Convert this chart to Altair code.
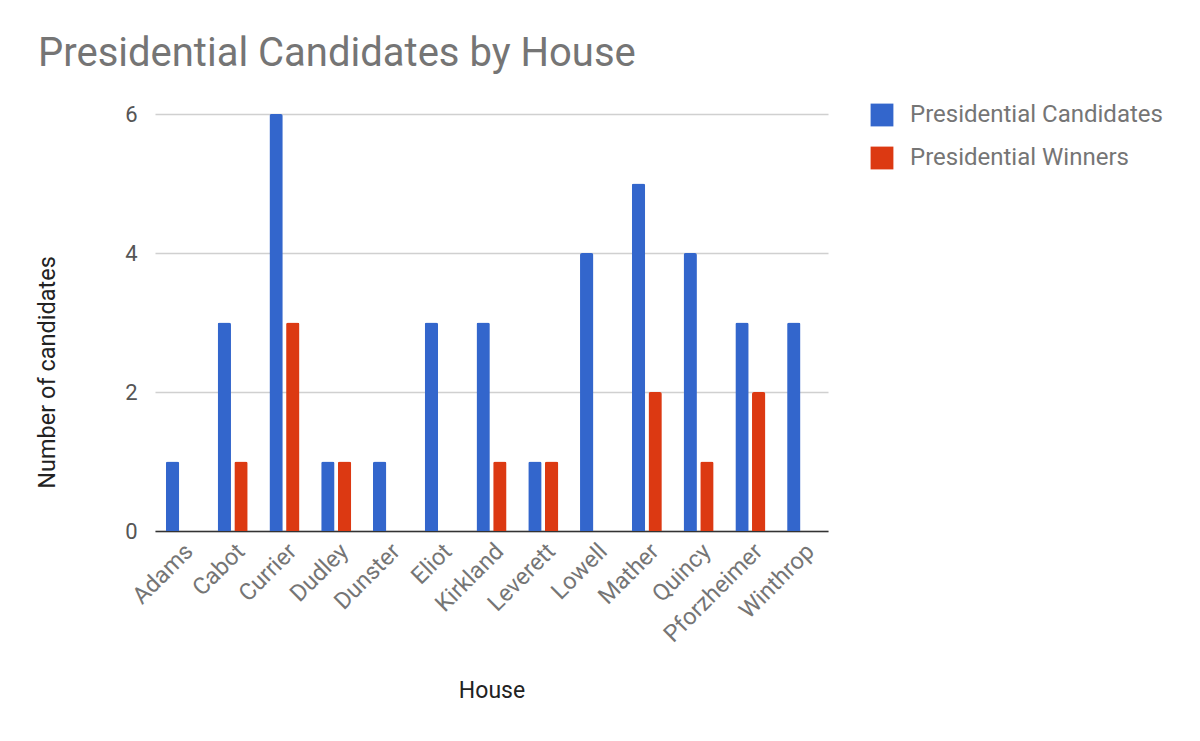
import altair as alt
import pandas as pd

houses = ["Adams", "Cabot", "Currier", "Dudley", "Dunster", "Eliot", "Kirkland",
          "Leverett", "Lowell", "Mather", "Quincy", "Pforzheimer", "Winthrop"]
candidates = [1, 3, 6, 1, 1, 3, 3, 1, 4, 5, 4, 3, 3]
winners = [0, 1, 3, 1, 0, 0, 1, 1, 0, 2, 1, 2, 0]
series = ["Presidential Candidates", "Presidential Winners"]
colors = ["#3366cc", "#dc3912"]

rows = []
for h, c, w in zip(houses, candidates, winners):
    rows.append({"House": h, "Series": series[0], "Value": c})
    rows.append({"House": h, "Series": series[1], "Value": w})
df = pd.DataFrame(rows)

chart = alt.Chart(df).mark_bar(cornerRadiusTopLeft=2, cornerRadiusTopRight=2).encode(
    x=alt.X("House:N", sort=houses, title="House",
            scale=alt.Scale(paddingInner=0.42, paddingOuter=0.21),
            axis=alt.Axis(labelAngle=-45, labelFontSize=23.5, labelColor="#757575",
                          labelPadding=8, ticks=False, domain=True, domainColor="#333333",
                          domainWidth=1.5, titleFontSize=23, titleColor="#222222",
                          titleFontWeight="normal", titleY=159, titleBaseline="middle")),
    xOffset=alt.XOffset("Series:N", sort=series, scale=alt.Scale(paddingInner=0.2)),
    y=alt.Y("Value:Q", title="Number of candidates",
            scale=alt.Scale(domain=[0, 6], nice=False),
            axis=alt.Axis(values=[0, 2, 4, 6], format="d", labelFontSize=22,
                          labelColor="#555555", labelPadding=18, ticks=False, domain=False,
                          gridColor="#d0d0d0", gridWidth=1.5, titleFontSize=23.5,
                          titleColor="#222222", titleFontWeight="normal",
                          titleX=-108, titleY=258, titleBaseline="middle", titleAngle=-90)),
    color=alt.Color("Series:N", sort=series,
                    scale=alt.Scale(domain=series, range=colors),
                    legend=alt.Legend(title=None, orient="none", legendX=715, legendY=-11,
                                      symbolType="square", symbolSize=520,
                                      symbolStrokeWidth=0, labelFontSize=24,
                                      labelColor="#757575", rowPadding=19,
                                      labelOffset=16, labelLimit=0)),
).properties(
    width=673, height=417,
    autosize=alt.AutoSizeParams(type="none"),
    padding={"left": 147, "top": 106, "right": 364, "bottom": 202},
    title=alt.TitleParams("Presidential Candidates by House", anchor="start",
                          frame="group", dx=-117, dy=50, offset=47, baseline="alphabetic",
                          fontSize=40, color="#757575", fontWeight="normal", font="Roboto"),
).configure(font="Roboto").configure_view(stroke=None)

chart.save("out.html", embed_options={"renderer": "svg", "actions": False})
